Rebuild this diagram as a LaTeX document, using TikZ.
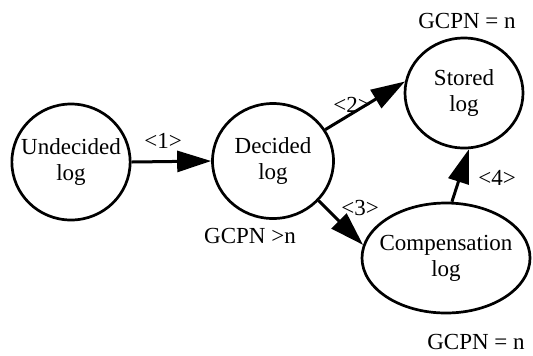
\documentclass[tikz,border=0pt]{standalone}
\usepackage{fontspec}
\setmainfont{Liberation Serif}
\usetikzlibrary{shapes.geometric, arrows.meta, positioning}

\begin{document}
\begin{tikzpicture}[x=0.5pt, y=-0.5pt, >={Triangle[length=17pt, width=10.5pt]},
    logstate/.style={draw, ellipse, line width=1.35pt, inner xsep=-4pt, inner ysep=0pt,
        align=center, font=\fontsize{11.5}{13}\selectfont},
    steplabel/.style={font=\fontsize{11.5}{13}\selectfont},
    conn/.style={->, line width=1.5pt}]

        \useasboundingbox (0, 0) rectangle (533, 355);

        %\draw[help lines] (0, 0) grid (533, 355);

        \node[logstate, minimum width=59pt, minimum height=58pt] (undec) at (71, 162) {Undecided\\log};
        \node[logstate, minimum width=60.5pt, minimum height=57.5pt] (dec) at (273, 161) {Decided\\log};
        \node[logstate, minimum width=59pt, minimum height=55pt] (stor) at (464, 93) {Stored\\log};
        \node[logstate, minimum width=84pt, minimum height=55pt] (comp) at (446, 258) {Compensation\\log};

        \draw[conn] (undec.east) -- (dec.west);
        \draw[conn] (dec.31) -- (stor.169);
        \draw[conn] (dec.-41) -- (comp.171);
        \draw[conn] (comp.84) -- (stor.-85);

        \node[steplabel] (lab1) at (163, 141) {\textless1\textgreater};
        \node[steplabel] (lab2) at (352, 105) {\textless2\textgreater};
        \node[steplabel] (lab3) at (360, 208) {\textless3\textgreater};
        \node[steplabel] (lab4) at (497, 178) {\textless4\textgreater};

        \node[steplabel] (gstor) at (467, 21) {GCPN = n};
        \node[steplabel] (gdec) at (250, 236) {GCPN \textgreater n};
        \node[steplabel] (gcomp) at (476, 342) {GCPN = n};
      \end{tikzpicture}
\end{document}
